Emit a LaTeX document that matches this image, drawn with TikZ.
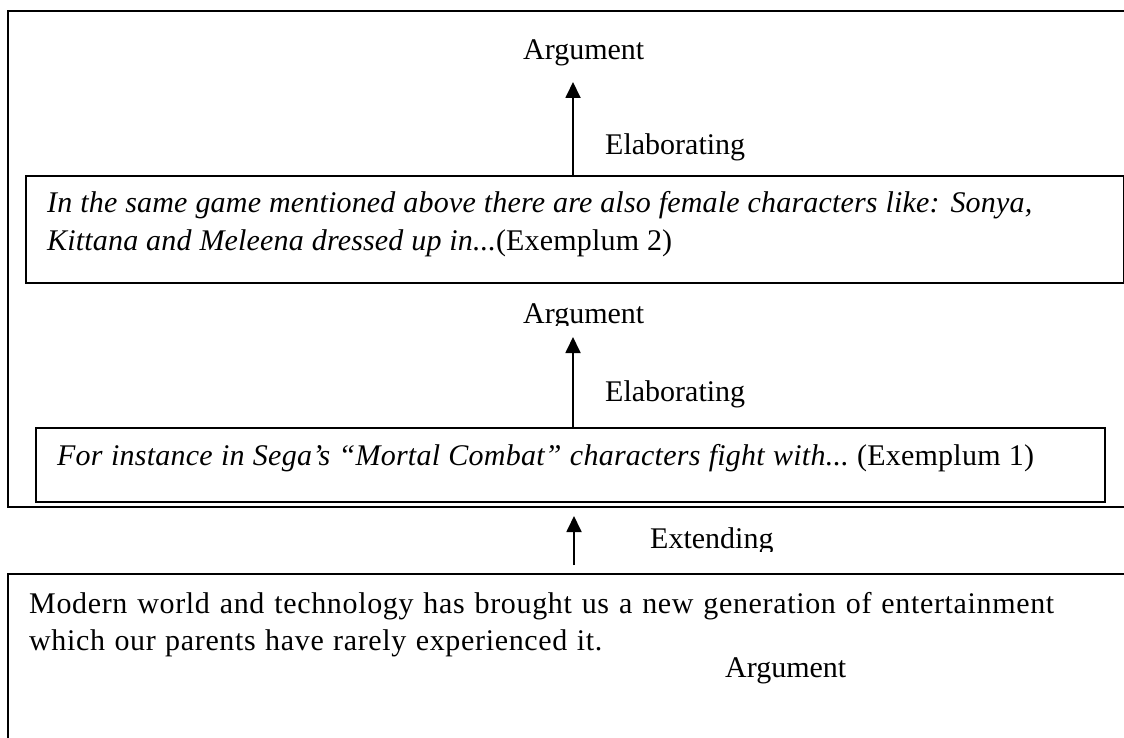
\documentclass[tikz,border=0pt]{standalone}
\usepackage{fontspec}
\setmainfont{Liberation Serif}
\usetikzlibrary{arrows.meta}
% a line of text, slightly letter-spaced, filled out to a given width
\newcommand{\spreadline}[3]{\addfontfeatures{LetterSpace=#2}\makebox[#1pt][s]{#3}}
\begin{document}
\begin{tikzpicture}[x=1pt,y=-1pt,
  frame/.style={draw=black,line width=1.6pt},
  box/.style={draw=black,line width=1.6pt,inner sep=0pt,anchor=north west},
  txt/.style={inner sep=0pt,anchor=base west,font=\fontsize{30}{37}\selectfont},
  link/.style={line width=1.8pt,-{Triangle[length=16pt,width=15pt]}}]
\useasboundingbox (0,0) rectangle (1124,738);

% outer frame around the two exempla (right side runs off the page)
\draw[frame] (1140,11) -- (8,11) -- (8,507) -- (1140,507);

% exemplum 2
\node[box,minimum width=1098pt,minimum height=107pt] (ex2) at (25,175) {};
\node[txt] (ex2a) at (47,213) {\spreadline{985}{0.6}{\itshape In the same game mentioned above there are also female characters like: Sonya,}};
\node[txt] (ex2b) at (47,250) {\spreadline{625}{0.6}{\itshape Kittana and Meleena dressed up in...\upshape(Exemplum 2)}};

% exemplum 1
\node[box,minimum width=1069pt,minimum height=74pt] (ex1) at (35,427) {};
\node[txt] (ex1a) at (57,465) {\spreadline{977}{0.8}{\itshape For instance in Sega’s “Mortal Combat” characters fight with...\upshape\ (Exemplum 1)}};

% main argument box (bottom and right run off the page)
\draw[frame] (1140,574) -- (8,574) -- (8,760);
\node[txt] (arga) at (29,613) {\spreadline{1025}{2.2}{Modern world and technology has brought us a new generation of entertainment}};
\node[txt] (argb) at (29,650) {\spreadline{573}{2.2}{which our parents have rarely experienced it.}};
\node[txt] (argc) at (725,677) {Argument};

% labels
\node[txt] (top) at (523,60) {Argument};
\node[txt] (el1) at (605,155) {Elaborating};
\begin{scope}
  \clip (400,290) rectangle (800,325);
  \node[txt] (mid) at (523,323) {Argument};
\end{scope}
\node[txt] (el2) at (605,401) {Elaborating};
\begin{scope}
  \clip (600,515) rectangle (900,551);
  \node[txt] (ext) at (650,548) {Extending};
\end{scope}

% arrow end points
\coordinate (t1) at (573,82);
\coordinate (t2) at (573,337);
\coordinate (t3) at (574,516);
\coordinate (s3) at (574,565);

\draw[link] (ex2.north -| t1) -- (t1);
\draw[link] (ex1.north -| t2) -- (t2);
\draw[link] (s3) -- (t3);
\end{tikzpicture}
\end{document}
